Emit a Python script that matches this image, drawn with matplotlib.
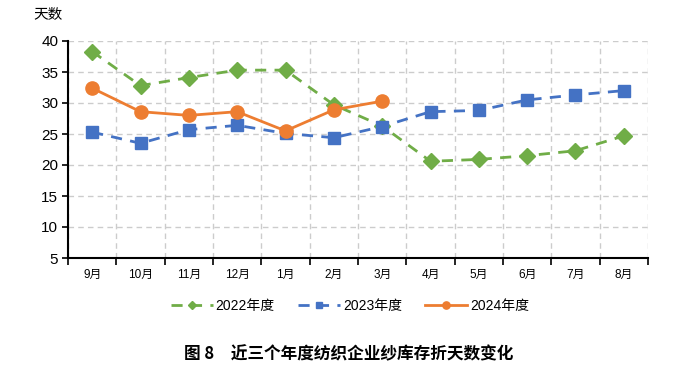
import matplotlib
matplotlib.use("Agg")
import matplotlib.pyplot as plt
from matplotlib.ticker import FixedLocator, NullFormatter

plt.rcParams['font.family'] = ['Liberation Sans', 'Noto Sans CJK SC', 'DejaVu Sans']

months = ['9月', '10月', '11月', '12月', '1月', '2月', '3月', '4月', '5月', '6月', '7月', '8月']
s2022 = [38.3, 32.8, 34.1, 35.3, 35.3, 29.7, 26.3, 20.6, 20.9, 21.5, 22.3, 24.7]
s2023 = [25.3, 23.5, 25.7, 26.4, 25.1, 24.4, 26.2, 28.6, 28.8, 30.5, 31.3, 32.0]
s2024 = [32.4, 28.6, 28.0, 28.6, 25.5, 28.9, 30.3]
names = ['2022年度', '2023年度', '2024年度']
yticks = [5, 10, 15, 20, 25, 30, 35, 40]

fig = plt.figure(figsize=(6.88, 3.71), dpi=100)
ax = fig.add_axes([68/688, 1-258/371, 580/688, 217/371])

x = list(range(len(months)))
green, blue, orange = '#70AD47', '#4472C4', '#ED7D31'

ax.plot(x, s2022, color=green, lw=2.0, dashes=(4, 3), marker='D', ms=8,
        markeredgecolor=green, label=names[0], zorder=3)
ax.plot(x, s2023, color=blue, lw=2.0, dashes=(4, 3), marker='s', ms=8,
        markeredgecolor=blue, label=names[1], zorder=3)
ax.plot(x[:len(s2024)], s2024, color=orange, lw=2.0, marker='o', ms=9.5,
        markeredgecolor=orange, label=names[2], zorder=4)

ax.set_xlim(-0.5, len(months) - 0.5)
ax.set_ylim(5, 40)
ax.set_yticks(yticks)
ax.set_yticklabels([str(v) for v in yticks], fontsize=11)
ax.set_xticks(x)
ax.set_xticklabels(months, fontsize=8.5)
ax.tick_params(axis='x', which='major', length=0, pad=8)
ax.xaxis.set_minor_locator(FixedLocator([i - 0.5 for i in range(len(months) + 1)]))
ax.xaxis.set_minor_formatter(NullFormatter())
ax.tick_params(axis='x', which='minor', length=5, width=1.2, direction='out')
ax.tick_params(axis='y', length=4, width=1.2, direction='out', pad=3)

ax.grid(axis='y', which='major', color='#cccccc', ls=(0, (4, 3)), lw=1)
ax.grid(axis='x', which='minor', color='#cccccc', ls=(0, (4, 3)), lw=1)
ax.grid(axis='x', which='major', visible=False)
ax.set_axisbelow(True)

for s in ['top', 'right']:
    ax.spines[s].set_visible(False)
for s in ['left', 'bottom']:
    ax.spines[s].set_linewidth(1.5)
    ax.spines[s].set_color('#000000')

fig.text(33/688, 1-15/371, '天数', fontsize=10.5, va='center', ha='left',
         family=['Noto Sans CJK SC'])

leg = fig.legend(loc='center', bbox_to_anchor=(350/688, 1-306/371), ncol=3, frameon=False,
                 fontsize=10, markerscale=0.55, handlelength=3.0, columnspacing=1.7,
                 handletextpad=0.2)

fig.text(349/688, 1-354/371, '图 8　近三个年度纺织企业纱库存折天数变化', fontsize=12,
         fontweight='bold', ha='center', va='center', family=['Noto Sans CJK SC'])

fig.savefig('out.png', dpi=100)
